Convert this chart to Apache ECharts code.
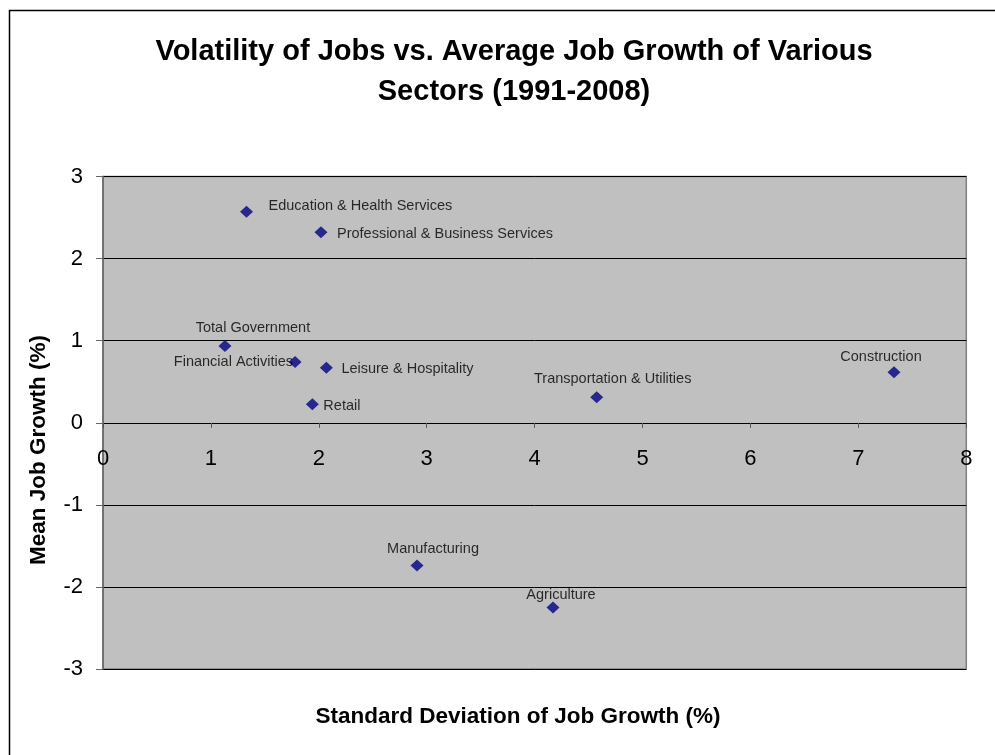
<!DOCTYPE html>
<html>
<head>
<meta charset="utf-8">
<script src="https://cdn.jsdelivr.net/npm/echarts@6/dist/echarts.min.js"></script>
<style>
html,body{margin:0;padding:0;background:#fff;}
#chart{width:995px;height:755px;}
</style>
</head>
<body>
<div id="chart"></div>
<script>
var sectors = ['Education & Health Services','Professional & Business Services','Total Government','Financial Activities','Leisure & Hospitality','Retail','Transportation & Utilities','Construction','Manufacturing','Agriculture'];
var stdDev = [1.33, 2.02, 1.13, 1.78, 2.07, 1.94, 4.575, 7.33, 2.91, 4.17];
var meanGrowth = [2.57, 2.32, 0.935, 0.74, 0.67, 0.225, 0.31, 0.615, -1.74, -2.25];
var xTicks = [0,1,2,3,4,5,6,7,8];
var yTicks = [-3,-2,-1,0,1,2,3];

var labelPlacement = {
  'Education & Health Services': {align:'left', offset:[22,-6]},
  'Professional & Business Services': {align:'left', offset:[16,2]},
  'Total Government': {align:'center', offset:[28,-18]},
  'Financial Activities': {align:'right', offset:[-2,0]},
  'Leisure & Hospitality': {align:'left', offset:[15,1]},
  'Retail': {align:'left', offset:[11,2]},
  'Transportation & Utilities': {align:'center', offset:[16,-18]},
  'Construction': {align:'center', offset:[-13,-15]},
  'Manufacturing': {align:'center', offset:[16,-17]},
  'Agriculture': {align:'center', offset:[8,-12]}
};

var points = sectors.map(function(name, i){
  var p = labelPlacement[name];
  return {
    name: name,
    value: [stdDev[i], meanGrowth[i]],
    label: {show:true, position:'inside', align:p.align, verticalAlign:'middle', offset:p.offset}
  };
});

var FONT = 'Liberation Sans, Arial, sans-serif';
var chart = echarts.init(document.getElementById('chart'), null, {renderer:'canvas'});
chart.setOption({
  backgroundColor:'#ffffff',
  animation:false,
  title:{
    text:'Volatility of Jobs vs. Average Job Growth of Various\nSectors (1991-2008)',
    left:509, top:27, textAlign:'center',
    textStyle:{fontFamily:FONT, fontWeight:'bold', fontSize:29, lineHeight:40, color:'#000'}
  },
  graphic:[
    {type:'rect', left:7, top:8, shape:{width:1000, height:800}, style:{fill:'none', stroke:'#000', lineWidth:1.5}, silent:true, z:-1},
    {type:'text', rotation:Math.PI/2, x:39, y:450, style:{text:'Mean Job Growth (%)', fill:'#000', font:'bold 22.5px "Liberation Sans", Arial, sans-serif', textAlign:'center', textVerticalAlign:'middle'}},
    {type:'text', x:518, y:717, style:{text:'Standard Deviation of Job Growth (%)', fill:'#000', font:'bold 22.5px "Liberation Sans", Arial, sans-serif', textAlign:'center', textVerticalAlign:'middle'}}
  ],
  grid:{left:103, top:176.5, right:28.7, bottom:86, show:true, backgroundColor:'#c0c0c0', borderColor:'#808080', borderWidth:1.5},
  xAxis:{
    type:'value', min:xTicks[0], max:xTicks[xTicks.length-1], interval:1,
    position:'bottom', offset:-246.2,
    axisLine:{show:true, onZero:false, lineStyle:{color:'#000', width:1.2}},
    axisTick:{show:true, inside:false, length:5, lineStyle:{color:'#555'}},
    axisLabel:{fontFamily:FONT, fontSize:22, color:'#000', margin:25, showMaxLabel:true, showMinLabel:true},
    splitLine:{show:false}
  },
  yAxis:{
    type:'value', min:yTicks[0], max:yTicks[yTicks.length-1], interval:1,
    axisLine:{show:true, onZero:false, lineStyle:{color:'#666', width:1.5}},
    axisTick:{show:true, length:7, lineStyle:{color:'#666'}},
    axisLabel:{fontFamily:FONT, fontSize:22, color:'#000', margin:20},
    splitLine:{show:true, lineStyle:{color:'#000', width:1}}
  },
  series:[{
    type:'scatter',
    symbol:'diamond',
    symbolSize:[13,12],
    itemStyle:{color:'#000080'},
    label:{fontFamily:FONT, fontSize:14.5, color:'#000', formatter:'{b}'},
    data: points
  }]
});
</script>
</body>
</html>
